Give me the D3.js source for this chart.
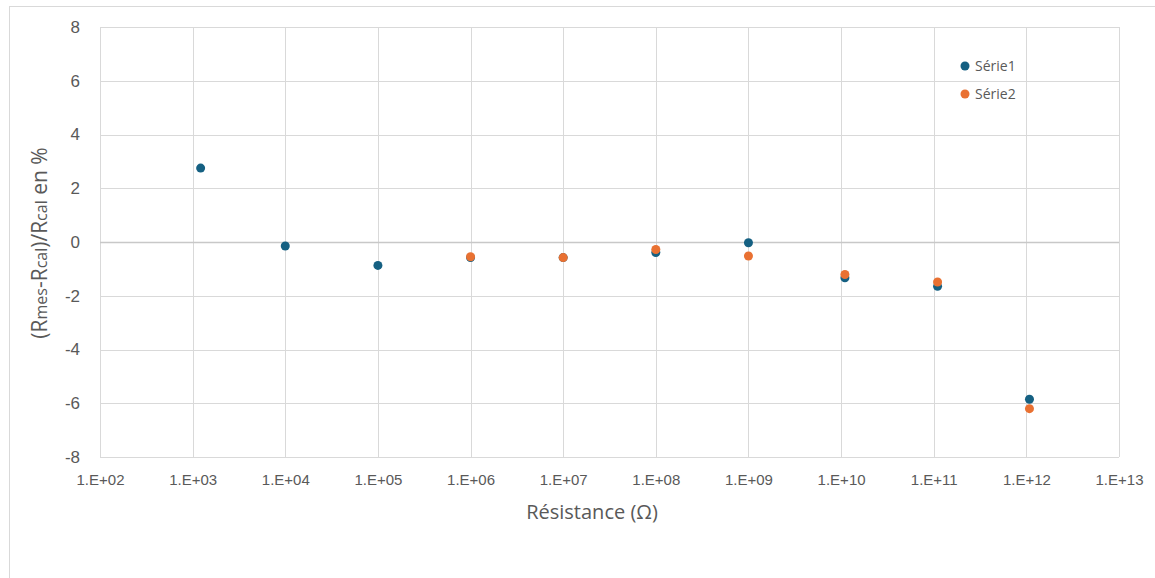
<!DOCTYPE html>
<html>
<head>
<meta charset="utf-8">
<script src="https://cdn.jsdelivr.net/npm/d3@7"></script>
<style>
  html, body { margin:0; padding:0; background:#fff; }
  svg { display:block; font-family:"Open Sans","Noto Sans",Arial,sans-serif; }
</style>
</head>
<body>
<svg id="chart" width="1155" height="578"></svg>
<script>
// values
var X_TICKS = [1e2,1e3,1e4,1e5,1e6,1e7,1e8,1e9,1e10,1e11,1e12,1e13];
var Y_TICKS = [-8,-6,-4,-2,0,2,4,6,8];

var S1_R   = [1.22e3, 1e4, 1e5, 1e6, 1e7, 1e8, 1e9, 1.1e10, 1.1e11, 1.08e12];
var S1_ERR = [2.75, -0.15, -0.87, -0.58, -0.58, -0.39, -0.03, -1.33, -1.65, -5.85];
var S2_R   = [1e6, 1e7, 1e8, 1e9, 1.1e10, 1.1e11, 1.08e12];
var S2_ERR = [-0.55, -0.58, -0.28, -0.52, -1.21, -1.49, -6.2];

var SERIES = [
  { name:'Série1', color:'#156082', r:S1_R, v:S1_ERR },
  { name:'Série2', color:'#E97132', r:S2_R, v:S2_ERR }
];

var svg = d3.select('#chart');
var L = 100, R = 1119, T = 27, B = 457;

// outer chart frame
svg.append('rect').attr('x',9.5).attr('y',6.5).attr('width',1160).attr('height',600)
   .attr('fill','none').attr('stroke','#d9d9d9');

var x = d3.scaleLog().domain([1e2,1e13]).range([L,R]);
var y = d3.scaleLinear().domain([-8,8]).range([B,T]);

// gridlines
var grid = svg.append('g');
grid.selectAll('line.h').data(Y_TICKS).join('line').attr('class','h')
    .attr('x1',L).attr('x2',R)
    .attr('y1',function(d){ return Math.round(y(d))+0.5; })
    .attr('y2',function(d){ return Math.round(y(d))+0.5; })
    .attr('stroke','#d9d9d9').attr('stroke-width',1);
grid.selectAll('line.v').data(X_TICKS).join('line').attr('class','v')
    .attr('y1',T).attr('y2',B)
    .attr('x1',function(d){ return Math.round(x(d))+0.5; })
    .attr('x2',function(d){ return Math.round(x(d))+0.5; })
    .attr('stroke','#d9d9d9').attr('stroke-width',1);

// horizontal axis line crosses at 0
svg.append('line').attr('x1',L).attr('x2',R)
   .attr('y1',Math.round(y(0))+0.5).attr('y2',Math.round(y(0))+0.5)
   .attr('stroke','#c8c8c8').attr('stroke-width',1.6);

// tick labels
var fmt = function(d){ var e = Math.round(Math.log10(d)); return '1.E+' + (e<10?'0':'') + e; };
var xAxis = d3.axisBottom(x).tickValues(X_TICKS).tickFormat(fmt).tickSize(0).tickPadding(0);
var gx = svg.append('g').attr('transform','translate(0,'+(B+14)+')').call(xAxis);
gx.select('.domain').remove();
gx.selectAll('text').attr('fill','#595959').style('font-size','15px').attr('dy','0.9em');

var yAxis = d3.axisLeft(y).tickValues(Y_TICKS).tickFormat(function(d){ return String(d); })
    .tickSize(0).tickPadding(0);
var gy = svg.append('g').attr('transform','translate('+(L-20)+',0)').call(yAxis);
gy.select('.domain').remove();
gy.selectAll('text').attr('fill','#595959').style('font-size','17px')
  .style('font-family','"Liberation Sans",Arial,sans-serif');

// axis titles
svg.append('text').attr('x',592).attr('y',519).attr('text-anchor','middle')
   .attr('fill','#595959').style('font-size','20px').text('Résistance (Ω)');

var yt = svg.append('text').attr('transform','translate(47,'+(y(0)+1)+') rotate(-90)')
   .attr('text-anchor','middle').attr('fill','#595959').style('font-size','21px');
yt.append('tspan').text('(R');
yt.append('tspan').style('font-size','16px').text('mes');
yt.append('tspan').text('-R');
yt.append('tspan').style('font-size','16px').text('cal');
yt.append('tspan').text(')/R');
yt.append('tspan').style('font-size','16px').text('cal');
yt.append('tspan').text(' en %');

// points
SERIES.forEach(function(s){
  svg.append('g').selectAll('circle').data(s.r).join('circle')
     .attr('cx',function(d){ return x(d); })
     .attr('cy',function(d,i){ return y(s.v[i]); })
     .attr('r',4.5).attr('fill',s.color);
});

// legend
var lg = svg.append('g').attr('transform','translate(965,66)');
SERIES.forEach(function(s,i){
  var row = lg.append('g').attr('transform','translate(0,'+(i*28)+')');
  row.append('circle').attr('r',4.5).attr('fill',s.color);
  row.append('text').attr('x',10).attr('dy','0.35em').attr('fill','#595959')
     .style('font-size','14px').text(s.name);
});
</script>
</body>
</html>
